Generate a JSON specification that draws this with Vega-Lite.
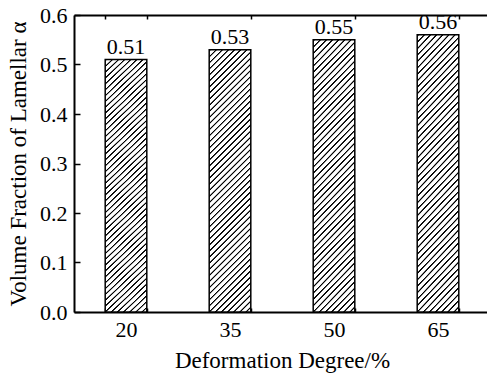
{
  "$schema": "https://vega.github.io/schema/vega-lite/v6.json",
  "width": 416,
  "height": 297,
  "autosize": {"type": "none"},
  "padding": {"left": 74, "top": 15, "right": 0, "bottom": 65},
  "config": {
    "font": "Liberation Serif",
    "view": {"stroke": null},
    "axis": {
      "domainColor": "black",
      "domainWidth": 2,
      "tickColor": "black",
      "tickWidth": 1.5,
      "labelColor": "black",
      "titleColor": "black",
      "grid": false
    }
  },
  "data": {
    "values": [
      {"deformation": "20", "fraction": 0.51},
      {"deformation": "35", "fraction": 0.53},
      {"deformation": "50", "fraction": 0.55},
      {"deformation": "65", "fraction": 0.56}
    ]
  },
  "layer": [
    {
      "mark": {
        "type": "bar",
        "stroke": "black",
        "strokeWidth": 1.5,
        "fill": {
          "gradient": "linear",
          "x1": 0, "y1": 0, "x2": 0.178, "y2": 1.13,
          "stops": [
            {"offset": 0, "color": "#fff"}, {"offset": 0.002, "color": "#000"}, {"offset": 0.005, "color": "#000"}, {"offset": 0.008, "color": "#fff"}, {"offset": 0.02, "color": "#fff"},
            {"offset": 0.022, "color": "#000"}, {"offset": 0.025, "color": "#000"}, {"offset": 0.028, "color": "#fff"}, {"offset": 0.04, "color": "#fff"},
            {"offset": 0.042, "color": "#000"}, {"offset": 0.045, "color": "#000"}, {"offset": 0.048, "color": "#fff"}, {"offset": 0.06, "color": "#fff"},
            {"offset": 0.062, "color": "#000"}, {"offset": 0.065, "color": "#000"}, {"offset": 0.068, "color": "#fff"}, {"offset": 0.08, "color": "#fff"},
            {"offset": 0.082, "color": "#000"}, {"offset": 0.085, "color": "#000"}, {"offset": 0.088, "color": "#fff"}, {"offset": 0.1, "color": "#fff"},
            {"offset": 0.102, "color": "#000"}, {"offset": 0.105, "color": "#000"}, {"offset": 0.108, "color": "#fff"}, {"offset": 0.12, "color": "#fff"},
            {"offset": 0.122, "color": "#000"}, {"offset": 0.125, "color": "#000"}, {"offset": 0.128, "color": "#fff"}, {"offset": 0.14, "color": "#fff"},
            {"offset": 0.142, "color": "#000"}, {"offset": 0.145, "color": "#000"}, {"offset": 0.148, "color": "#fff"}, {"offset": 0.16, "color": "#fff"},
            {"offset": 0.162, "color": "#000"}, {"offset": 0.165, "color": "#000"}, {"offset": 0.168, "color": "#fff"}, {"offset": 0.18, "color": "#fff"},
            {"offset": 0.182, "color": "#000"}, {"offset": 0.185, "color": "#000"}, {"offset": 0.188, "color": "#fff"}, {"offset": 0.2, "color": "#fff"},
            {"offset": 0.202, "color": "#000"}, {"offset": 0.205, "color": "#000"}, {"offset": 0.208, "color": "#fff"}, {"offset": 0.22, "color": "#fff"},
            {"offset": 0.222, "color": "#000"}, {"offset": 0.225, "color": "#000"}, {"offset": 0.228, "color": "#fff"}, {"offset": 0.24, "color": "#fff"},
            {"offset": 0.242, "color": "#000"}, {"offset": 0.245, "color": "#000"}, {"offset": 0.248, "color": "#fff"}, {"offset": 0.26, "color": "#fff"},
            {"offset": 0.262, "color": "#000"}, {"offset": 0.265, "color": "#000"}, {"offset": 0.268, "color": "#fff"}, {"offset": 0.28, "color": "#fff"},
            {"offset": 0.282, "color": "#000"}, {"offset": 0.285, "color": "#000"}, {"offset": 0.288, "color": "#fff"}, {"offset": 0.3, "color": "#fff"},
            {"offset": 0.302, "color": "#000"}, {"offset": 0.305, "color": "#000"}, {"offset": 0.308, "color": "#fff"}, {"offset": 0.32, "color": "#fff"},
            {"offset": 0.322, "color": "#000"}, {"offset": 0.325, "color": "#000"}, {"offset": 0.328, "color": "#fff"}, {"offset": 0.34, "color": "#fff"},
            {"offset": 0.342, "color": "#000"}, {"offset": 0.345, "color": "#000"}, {"offset": 0.348, "color": "#fff"}, {"offset": 0.36, "color": "#fff"},
            {"offset": 0.362, "color": "#000"}, {"offset": 0.365, "color": "#000"}, {"offset": 0.368, "color": "#fff"}, {"offset": 0.38, "color": "#fff"},
            {"offset": 0.382, "color": "#000"}, {"offset": 0.385, "color": "#000"}, {"offset": 0.388, "color": "#fff"}, {"offset": 0.4, "color": "#fff"},
            {"offset": 0.402, "color": "#000"}, {"offset": 0.405, "color": "#000"}, {"offset": 0.408, "color": "#fff"}, {"offset": 0.42, "color": "#fff"},
            {"offset": 0.422, "color": "#000"}, {"offset": 0.425, "color": "#000"}, {"offset": 0.428, "color": "#fff"}, {"offset": 0.44, "color": "#fff"},
            {"offset": 0.442, "color": "#000"}, {"offset": 0.445, "color": "#000"}, {"offset": 0.448, "color": "#fff"}, {"offset": 0.46, "color": "#fff"},
            {"offset": 0.462, "color": "#000"}, {"offset": 0.465, "color": "#000"}, {"offset": 0.468, "color": "#fff"}, {"offset": 0.48, "color": "#fff"},
            {"offset": 0.482, "color": "#000"}, {"offset": 0.485, "color": "#000"}, {"offset": 0.488, "color": "#fff"}, {"offset": 0.5, "color": "#fff"},
            {"offset": 0.502, "color": "#000"}, {"offset": 0.505, "color": "#000"}, {"offset": 0.508, "color": "#fff"}, {"offset": 0.52, "color": "#fff"},
            {"offset": 0.522, "color": "#000"}, {"offset": 0.525, "color": "#000"}, {"offset": 0.528, "color": "#fff"}, {"offset": 0.54, "color": "#fff"},
            {"offset": 0.542, "color": "#000"}, {"offset": 0.545, "color": "#000"}, {"offset": 0.548, "color": "#fff"}, {"offset": 0.56, "color": "#fff"},
            {"offset": 0.562, "color": "#000"}, {"offset": 0.565, "color": "#000"}, {"offset": 0.568, "color": "#fff"}, {"offset": 0.58, "color": "#fff"},
            {"offset": 0.582, "color": "#000"}, {"offset": 0.585, "color": "#000"}, {"offset": 0.588, "color": "#fff"}, {"offset": 0.6, "color": "#fff"},
            {"offset": 0.602, "color": "#000"}, {"offset": 0.605, "color": "#000"}, {"offset": 0.608, "color": "#fff"}, {"offset": 0.62, "color": "#fff"},
            {"offset": 0.622, "color": "#000"}, {"offset": 0.625, "color": "#000"}, {"offset": 0.628, "color": "#fff"}, {"offset": 0.64, "color": "#fff"},
            {"offset": 0.642, "color": "#000"}, {"offset": 0.645, "color": "#000"}, {"offset": 0.648, "color": "#fff"}, {"offset": 0.66, "color": "#fff"},
            {"offset": 0.662, "color": "#000"}, {"offset": 0.665, "color": "#000"}, {"offset": 0.668, "color": "#fff"}, {"offset": 0.68, "color": "#fff"},
            {"offset": 0.682, "color": "#000"}, {"offset": 0.685, "color": "#000"}, {"offset": 0.688, "color": "#fff"}, {"offset": 0.7, "color": "#fff"},
            {"offset": 0.702, "color": "#000"}, {"offset": 0.705, "color": "#000"}, {"offset": 0.708, "color": "#fff"}, {"offset": 0.72, "color": "#fff"},
            {"offset": 0.722, "color": "#000"}, {"offset": 0.725, "color": "#000"}, {"offset": 0.728, "color": "#fff"}, {"offset": 0.74, "color": "#fff"},
            {"offset": 0.742, "color": "#000"}, {"offset": 0.745, "color": "#000"}, {"offset": 0.748, "color": "#fff"}, {"offset": 0.76, "color": "#fff"},
            {"offset": 0.762, "color": "#000"}, {"offset": 0.765, "color": "#000"}, {"offset": 0.768, "color": "#fff"}, {"offset": 0.78, "color": "#fff"},
            {"offset": 0.782, "color": "#000"}, {"offset": 0.785, "color": "#000"}, {"offset": 0.788, "color": "#fff"}, {"offset": 0.8, "color": "#fff"},
            {"offset": 0.802, "color": "#000"}, {"offset": 0.805, "color": "#000"}, {"offset": 0.808, "color": "#fff"}, {"offset": 0.82, "color": "#fff"},
            {"offset": 0.822, "color": "#000"}, {"offset": 0.825, "color": "#000"}, {"offset": 0.828, "color": "#fff"}, {"offset": 0.84, "color": "#fff"},
            {"offset": 0.842, "color": "#000"}, {"offset": 0.845, "color": "#000"}, {"offset": 0.848, "color": "#fff"}, {"offset": 0.86, "color": "#fff"},
            {"offset": 0.862, "color": "#000"}, {"offset": 0.865, "color": "#000"}, {"offset": 0.868, "color": "#fff"}, {"offset": 0.88, "color": "#fff"},
            {"offset": 0.882, "color": "#000"}, {"offset": 0.885, "color": "#000"}, {"offset": 0.888, "color": "#fff"}, {"offset": 0.9, "color": "#fff"},
            {"offset": 0.902, "color": "#000"}, {"offset": 0.905, "color": "#000"}, {"offset": 0.908, "color": "#fff"}, {"offset": 0.92, "color": "#fff"},
            {"offset": 0.922, "color": "#000"}, {"offset": 0.925, "color": "#000"}, {"offset": 0.928, "color": "#fff"}, {"offset": 0.94, "color": "#fff"},
            {"offset": 0.942, "color": "#000"}, {"offset": 0.945, "color": "#000"}, {"offset": 0.948, "color": "#fff"}, {"offset": 0.96, "color": "#fff"},
            {"offset": 0.962, "color": "#000"}, {"offset": 0.965, "color": "#000"}, {"offset": 0.968, "color": "#fff"}, {"offset": 0.98, "color": "#fff"},
            {"offset": 0.982, "color": "#000"}, {"offset": 0.985, "color": "#000"}, {"offset": 0.988, "color": "#fff"}, {"offset": 1, "color": "#fff"}
          ]
        }
      },
      "encoding": {
        "x": {
          "field": "deformation",
          "type": "nominal",
          "sort": null,
          "scale": {"paddingInner": 0.6, "paddingOuter": 0.3},
          "axis": {
            "orient": "bottom",
            "title": "Deformation Degree/%",
            "labelFont": "Liberation Serif",
            "labelFontSize": 22,
            "titleFont": "Liberation Serif",
            "titleFontSize": 23,
            "titleFontWeight": "normal",
            "labelAngle": 0,
            "labelPadding": 11,
            "tickBand": "extent",
            "tickSize": -4,
            "titlePadding": 9
          }
        },
        "y": {
          "field": "fraction",
          "type": "quantitative",
          "scale": {"domain": [0, 0.6], "nice": false},
          "axis": {
            "title": "Volume Fraction of Lamellar α",
            "labelFont": "Liberation Serif",
            "labelFontSize": 22,
            "titleFont": "Liberation Serif",
            "titleFontSize": 23,
            "titleFontWeight": "normal",
            "values": [0, 0.05, 0.1, 0.15, 0.2, 0.25, 0.3, 0.35, 0.4, 0.45, 0.5, 0.55, 0.6],
            "labelExpr": "abs(datum.value * 10 - round(datum.value * 10)) > 0.01 ? '' : format(datum.value, '.1f')",
            "labelOverlap": false,
            "labelPadding": 13,
            "tickSize": {
              "condition": {"test": "abs(datum.value * 10 - round(datum.value * 10)) > 0.01", "value": -4},
              "value": -6
            },
            "titlePadding": 9
          }
        }
      }
    },
    {
      "mark": {"type": "text", "baseline": "bottom", "dy": -1, "fontSize": 22, "color": "black", "font": "Liberation Serif"},
      "encoding": {
        "x": {
          "field": "deformation",
          "type": "nominal",
          "sort": null,
          "scale": {"paddingInner": 0.6, "paddingOuter": 0.3},
          "axis": {
            "orient": "top",
            "title": null,
            "labels": false,
            "tickBand": "extent",
            "tickSize": -4
          }
        },
        "y": {"field": "fraction", "type": "quantitative"},
        "text": {"field": "fraction", "type": "quantitative", "format": ".2f"}
      }
    }
  ],
  "resolve": {"axis": {"x": "independent"}}
}
